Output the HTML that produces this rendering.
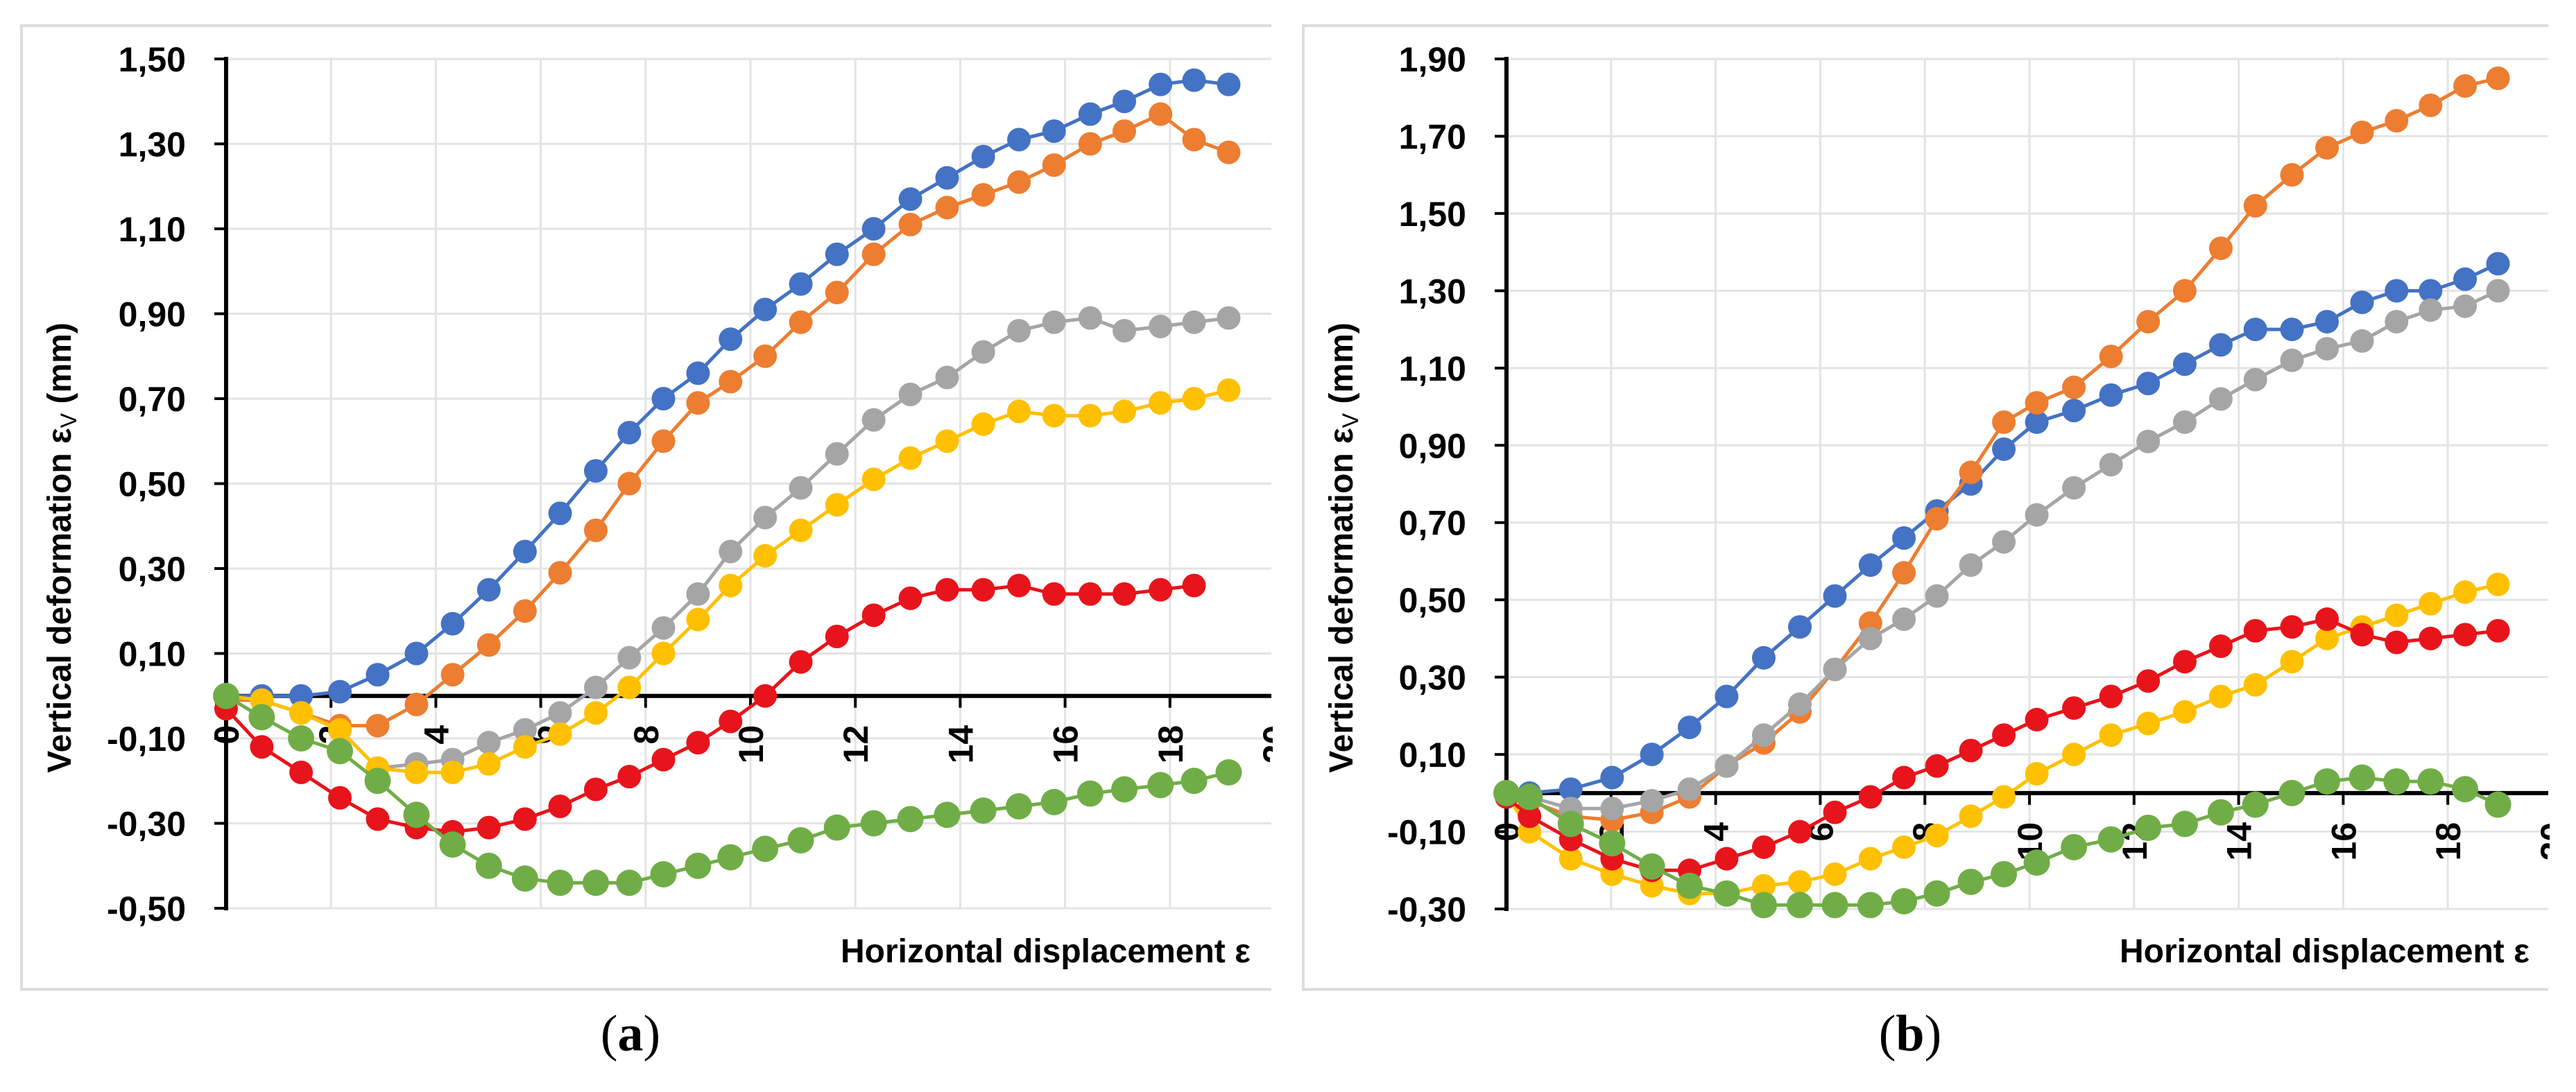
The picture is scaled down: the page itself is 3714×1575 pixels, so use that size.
<!DOCTYPE html>
<html><head><meta charset="utf-8">
<style>
html,body{margin:0;padding:0;background:#fff;}
svg{display:block;}
text{font-family:"Liberation Sans",sans-serif;}
</style></head>
<body>
<svg id="fig" width="3714" height="1575" viewBox="0 0 3714 1575" xmlns="http://www.w3.org/2000/svg"></svg>
<script>
// ---------- Panel (a) data ----------
const xA = [0,0.68,1.43,2.17,2.89,3.63,4.32,5.01,5.70,6.37,7.05,7.69,8.34,9.0,9.62,10.28,10.96,11.65,12.35,13.05,13.75,14.44,15.12,15.79,16.48,17.13,17.82,18.46,19.12];
const aBlue = [0,0,0,0.01,0.05,0.10,0.17,0.25,0.34,0.43,0.53,0.62,0.70,0.76,0.84,0.91,0.97,1.04,1.10,1.17,1.22,1.27,1.31,1.33,1.37,1.40,1.44,1.45,1.44];
const aOrange = [-0.01,-0.01,-0.04,-0.07,-0.07,-0.02,0.05,0.12,0.20,0.29,0.39,0.50,0.60,0.69,0.74,0.80,0.88,0.95,1.04,1.11,1.15,1.18,1.21,1.25,1.30,1.33,1.37,1.31,1.28];
const aGray = [0,-0.01,-0.04,-0.08,-0.17,-0.16,-0.15,-0.11,-0.08,-0.04,0.02,0.09,0.16,0.24,0.34,0.42,0.49,0.57,0.65,0.71,0.75,0.81,0.86,0.88,0.89,0.86,0.87,0.88,0.89];
const aYellow = [0,-0.01,-0.04,-0.08,-0.17,-0.18,-0.18,-0.16,-0.12,-0.09,-0.04,0.02,0.10,0.18,0.26,0.33,0.39,0.45,0.51,0.56,0.60,0.64,0.67,0.66,0.66,0.67,0.69,0.70,0.72];
const aRed = [-0.03,-0.12,-0.18,-0.24,-0.29,-0.31,-0.32,-0.31,-0.29,-0.26,-0.22,-0.19,-0.15,-0.11,-0.06,0.0,0.08,0.14,0.19,0.23,0.25,0.25,0.26,0.24,0.24,0.24,0.25,0.26];
const aGreen = [0.0,-0.05,-0.10,-0.13,-0.20,-0.28,-0.35,-0.40,-0.43,-0.44,-0.44,-0.44,-0.42,-0.40,-0.38,-0.36,-0.34,-0.31,-0.30,-0.29,-0.28,-0.27,-0.26,-0.25,-0.23,-0.22,-0.21,-0.20,-0.18];
const aYTicks = [1.5,1.3,1.1,0.9,0.7,0.5,0.3,0.1,-0.1,-0.3,-0.5];

// ---------- Panel (b) data ----------
const xB = [0,0.44,1.23,2.02,2.78,3.50,4.21,4.92,5.61,6.28,6.96,7.60,8.23,8.88,9.51,10.14,10.85,11.56,12.27,12.97,13.66,14.32,15.02,15.69,16.36,17.02,17.67,18.33,18.96];
const bBlue = [0,0,0.01,0.04,0.10,0.17,0.25,0.35,0.43,0.51,0.59,0.66,0.73,0.80,0.89,0.96,0.99,1.03,1.06,1.11,1.16,1.20,1.20,1.22,1.27,1.30,1.30,1.33,1.37];
const bOrange = [-0.01,-0.02,-0.06,-0.07,-0.05,-0.01,0.07,0.13,0.21,0.32,0.44,0.57,0.71,0.83,0.96,1.01,1.05,1.13,1.22,1.30,1.41,1.52,1.60,1.67,1.71,1.74,1.78,1.83,1.85];
const bGray = [0,-0.01,-0.04,-0.04,-0.02,0.01,0.07,0.15,0.23,0.32,0.40,0.45,0.51,0.59,0.65,0.72,0.79,0.85,0.91,0.96,1.02,1.07,1.12,1.15,1.17,1.22,1.25,1.26,1.30];
const bYellow = [0,-0.10,-0.17,-0.21,-0.24,-0.26,-0.26,-0.24,-0.23,-0.21,-0.17,-0.14,-0.11,-0.06,-0.01,0.05,0.10,0.15,0.18,0.21,0.25,0.28,0.34,0.40,0.43,0.46,0.49,0.52,0.54];
const bRed = [-0.01,-0.06,-0.12,-0.17,-0.20,-0.20,-0.17,-0.14,-0.10,-0.05,-0.01,0.04,0.07,0.11,0.15,0.19,0.22,0.25,0.29,0.34,0.38,0.42,0.43,0.45,0.41,0.39,0.40,0.41,0.42];
const bGreen = [0,-0.01,-0.08,-0.13,-0.19,-0.24,-0.26,-0.29,-0.29,-0.29,-0.29,-0.28,-0.26,-0.23,-0.21,-0.18,-0.14,-0.12,-0.09,-0.08,-0.05,-0.03,0.0,0.03,0.04,0.03,0.03,0.01,-0.03];
const bYTicks = [1.9,1.7,1.5,1.3,1.1,0.9,0.7,0.5,0.3,0.1,-0.1,-0.3];

const xTicks = [0,2,4,6,8,10,12,14,16,18,20];
const seriesNames = ['blue','orange','gray','yellow','red','green'];
const seriesColors = ['#4472C4','#ED7D31','#A5A5A5','#FFC000','#E8141B','#70AD47'];
const seriesRadius = [17,17,17,17,17,19];

const NS = 'http://www.w3.org/2000/svg';
const svg = document.getElementById('fig');
function mk(tag, attrs, parent){
  const e = document.createElementNS(NS, tag);
  for (const k in attrs) e.setAttribute(k, attrs[k]);
  (parent||svg).appendChild(e);
  return e;
}
function fmt(v){ return v.toFixed(2).replace('.', ','); }

function panel(cfg){
  const g = mk('g', {});
  
  
  const xs = v => cfg.x0 + v * cfg.xu;
  const ys = v => cfg.yTop + (cfg.yMax - v) / (cfg.yMax - cfg.yMin) * (cfg.yBot - cfg.yTop);
  const fr = mk('path', {d:`M${cfg.fR} ${cfg.fT} H${cfg.fL} V${cfg.fB} H${cfg.fR}`, fill:'none', stroke:'#dcdcdc', 'stroke-width':4}, g);
  
  
  cfg.yTicks.forEach(t => {
    const y = ys(t);
    const l = mk('line', {x1:cfg.x0, x2:cfg.fR, y1:y, y2:y, stroke:'#e3e3e3', 'stroke-width':3}, g);
    
    
    const tk = mk('line', {x1:cfg.x0-17, x2:cfg.x0, y1:y, y2:y, stroke:'#000', 'stroke-width':4}, g);
    
    
    const tx = mk('text', {x:cfg.x0-58, y:y+18, 'text-anchor':'end', 'font-size':50, 'font-weight':'bold', fill:'#000'}, g);
    tx.textContent = fmt(t);
    
    
  });
  const y0 = ys(0);
  xTicks.forEach(t => {
    const x = xs(t);
    if (t > 0 && x < cfg.fR) {
      const l = mk('line', {x1:x, x2:x, y1:cfg.yTop, y2:cfg.yBot, stroke:'#e3e3e3', 'stroke-width':3}, g);
      
      
    }
    if (x < cfg.fR) {
      const tk = mk('line', {x1:x, x2:x, y1:y0, y2:y0+17, stroke:'#000', 'stroke-width':4}, g);
      
      
    }
    const tx = mk('text', {x:0, y:0, 'text-anchor':'end', 'font-size':50, 'font-weight':'bold', fill:'#000',
      transform:`translate(${x+18},${y0+42}) rotate(-90)`}, g);
    tx.textContent = String(t);
    
    
  });
  const ya = mk('line', {x1:cfg.x0, x2:cfg.x0, y1:cfg.yTop-3, y2:cfg.yBot+3, stroke:'#000', 'stroke-width':6}, g);
  
  
  const xa = mk('line', {x1:cfg.x0, x2:cfg.fR, y1:y0, y2:y0, stroke:'#000', 'stroke-width':6}, g);
  
  
  cfg.series.forEach((vals, si) => {
    const sg = mk('g', {}, g);
    
    
    const pts = vals.map((v, i) => xs(cfg.xv[i]).toFixed(1) + ',' + ys(v).toFixed(1)).join(' ');
    const pl = mk('polyline', {points:pts, fill:'none', stroke:seriesColors[si], 'stroke-width':5}, sg);
    
    
    vals.forEach((v, i) => {
      const c = mk('circle', {cx:xs(cfg.xv[i]), cy:ys(v), r:seriesRadius[si], fill:seriesColors[si]}, sg);
      
      
    });
  });
  const cov = mk('rect', {x:cfg.fR+2, y:cfg.fT-10, width:cfg.coverW, height:cfg.fB-cfg.fT+20, fill:'#fff'}, g);
  
  
  const yt = mk('text', {x:0, y:0, 'text-anchor':'middle', 'font-size':48, 'font-weight':'bold', fill:'#000',
    transform:`translate(${cfg.yTitleX},${cfg.yTitleY}) rotate(-90)`}, g);
  
  
  yt.innerHTML = 'Vertical deformation ε<tspan font-size="32" font-weight="normal" dy="8">V</tspan><tspan dy="-8"> (mm)</tspan>';
  const xt = mk('text', {x:cfg.xTitleX, y:1388, 'font-size':48, 'font-weight':'bold', fill:'#000'}, g);
  xt.textContent = 'Horizontal displacement ε';
  
  
  const cov2 = mk('rect', {x:cfg.fR+2, y:1340, width:cfg.coverW, height:70, fill:'#fff'}, g);
  
  
  const cap = mk('text', {x:cfg.capX, y:1515, 'text-anchor':'middle', 'font-size':74, fill:'#000', style:'font-family:"Liberation Serif",serif'}, g);
  cap.innerHTML = '(<tspan font-weight="bold">' + cfg.cap + '</tspan>)';
  
  
}

panel({name:'chart-a', x0:326, xu:75.6, yTop:85, yBot:1310, yMax:1.5, yMin:-0.5,
  fL:31, fT:37, fR:1833, fB:1427, coverW:44, yTicks:aYTicks, xv:xA,
  series:[aBlue,aOrange,aGray,aYellow,aRed,aGreen], yTitleX:102, yTitleY:790, xTitleX:1212, capX:909, cap:'a'});
panel({name:'chart-b', x0:2172, xu:75.4, yTop:85, yBot:1311, yMax:1.9, yMin:-0.3,
  fL:1879, fT:37, fR:3674, fB:1427, coverW:40, yTicks:bYTicks, xv:xB,
  series:[bBlue,bOrange,bGray,bYellow,bRed,bGreen], yTitleX:1950, yTitleY:790, xTitleX:3056, capX:2754, cap:'b'});
</script>
</body></html>
